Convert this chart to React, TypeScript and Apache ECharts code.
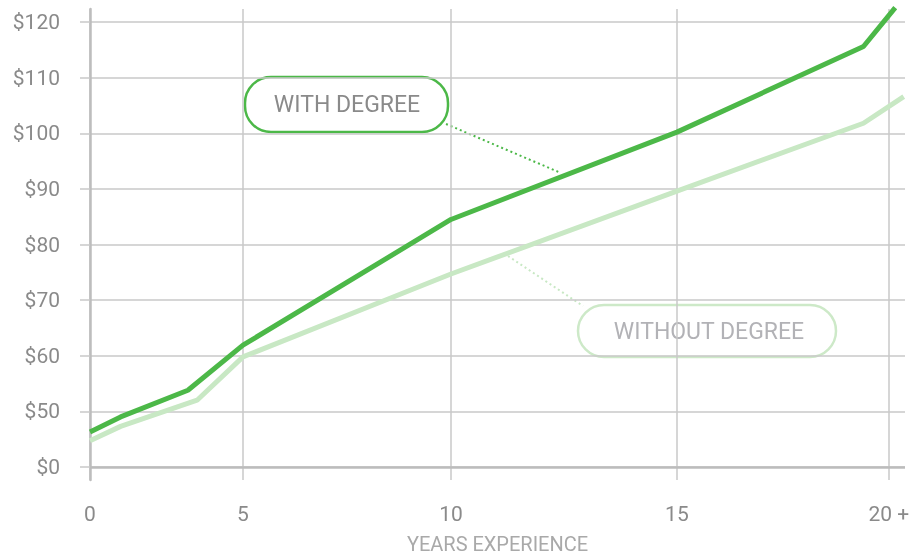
import React, { useEffect, useRef } from "react";
import * as echarts from "echarts";

// ---- data ----
const X_TICKS = [0, 5, 10, 15, 20];
const X_TICK_LABELS = ["0", "5", "10", "15", "20 +"];
const Y_TICKS = [0, 50, 60, 70, 80, 90, 100, 110, 120];
const Y_TICK_LABELS = ["$0", "$50", "$60", "$70", "$80", "$90", "$100", "$110", "$120"];

const WITH_YEARS = [0, 1, 3.2, 5, 10, 15, 19.4, 20.15];
const WITH_VALUES = [31.5, 45, 53.8, 61.9, 84.5, 100.2, 115.6, 122.6];
const WITHOUT_YEARS = [0, 1, 3.5, 5, 10, 15, 19.4, 20.35];
const WITHOUT_VALUES = [23.5, 36.5, 52.0, 59.8, 74.7, 89.6, 101.8, 106.6];

// ---- scale layout (relative widths of the 5-year bands; y axis compresses $0-$50) ----
const X_BANDS = [153, 208, 226, 212];
const X_END_YEAR = 20.38;
const Y_MIN_DISP = 37.66;
const Y_MAX_DISP = 122.34;

const xWarp = (yr: number) => {
  let acc = 0;
  for (let i = 0; i < X_BANDS.length; i++) {
    const lo = X_TICKS[i];
    const hi = X_TICKS[i + 1];
    const last = i === X_BANDS.length - 1;
    if (yr <= hi || last) return acc + ((yr - lo) / (hi - lo)) * X_BANDS[i];
    acc += X_BANDS[i];
  }
  return acc;
};
const yWarp = (d: number) => (d < 50 ? 40 + d / 5 : d);

const FONT = "Roboto";

export default function App() {
  const ref = useRef<HTMLDivElement>(null);
  useEffect(() => {
    if (!ref.current) return;
    const chart = echarts.init(ref.current, null, { renderer: "svg" });
    const xLabel = (v: number) => {
      const i = X_TICKS.findIndex((t) => Math.abs(xWarp(t) - v) < 0.01);
      return i >= 0 ? X_TICK_LABELS[i] : "";
    };
    const yLabel = (v: number) => {
      const i = Y_TICKS.findIndex((t) => Math.abs(yWarp(t) - v) < 0.01);
      return i >= 0 ? Y_TICK_LABELS[i] : "";
    };
    const grid = "#c9c9c9";
    chart.setOption({
      animation: false,
      grid: { left: 90, right: 7, top: 9, bottom: 77, containLabel: false, outerBoundsMode: "none" },
      xAxis: {
        type: "value",
        min: 0,
        max: xWarp(X_END_YEAR),
        axisLine: { show: false },
        axisTick: { show: false, customValues: X_TICKS.map(xWarp) },
        axisLabel: {
          customValues: X_TICKS.map(xWarp),
          formatter: xLabel,
          margin: 23,
          color: "#8a8a8a",
          fontFamily: FONT,
          fontSize: 21,
        },
        splitLine: { show: true, lineStyle: { color: grid, width: 1.5 } },
        name: "YEARS EXPERIENCE",
        nameLocation: "middle",
        nameGap: 54,
        nameTextStyle: { color: "#a9a9a9", fontFamily: FONT, fontSize: 20 },
      },
      yAxis: {
        type: "value",
        min: Y_MIN_DISP,
        max: Y_MAX_DISP,
        axisLine: { show: true, lineStyle: { color: "#bdbdbd", width: 2.5 } },
        axisTick: {
          show: true,
          length: 10,
          customValues: Y_TICKS.map(yWarp),
          lineStyle: { color: grid, width: 1.5 },
        },
        axisLabel: {
          customValues: Y_TICKS.map(yWarp),
          formatter: yLabel,
          margin: 30,
          color: "#8a8a8a",
          fontFamily: FONT,
          fontSize: 21,
        },
        splitLine: { show: true, lineStyle: { color: grid, width: 1.5 } },
      },
      series: [
        {
          name: "Without degree",
          type: "line",
          data: WITHOUT_YEARS.map((yr, i) => [xWarp(yr), yWarp(WITHOUT_VALUES[i])]),
          showSymbol: false,
          clip: false,
          lineStyle: { color: "#c8e8c4", width: 5 },
          itemStyle: { color: "#c8e8c4" },
          markLine: {
            silent: true,
            symbol: "none",
            label: { show: false },
            lineStyle: { color: "#bcbcbc", width: 2.5, type: "solid" },
            data: [{ yAxis: yWarp(0) }],
          },
        },
        {
          name: "With degree",
          type: "line",
          data: WITH_YEARS.map((yr, i) => [xWarp(yr), yWarp(WITH_VALUES[i])]),
          showSymbol: false,
          clip: false,
          lineStyle: { color: "#4cb848", width: 5 },
          itemStyle: { color: "#4cb848" },
        },
      ],
      graphic: [
        {
          type: "line",
          shape: { x1: 446, y1: 124, x2: 561, y2: 173 },
          style: { stroke: "#4cb848", lineWidth: 2, lineDash: [2, 3] },
        },
        {
          type: "rect",
          shape: { x: 245, y: 77, width: 203, height: 55, r: 26 },
          style: { fill: "none", stroke: "#4cb848", lineWidth: 2.5 },
        },
        {
          type: "text",
          x: 347,
          y: 104.5,
          style: {
            text: "WITH DEGREE",
            fill: "#8a8a8a",
            font: `23px ${FONT}`,
            align: "center",
            verticalAlign: "middle",
          },
        },
        {
          type: "line",
          shape: { x1: 508, y1: 256, x2: 583, y2: 306 },
          style: { stroke: "#c8e8c4", lineWidth: 2, lineDash: [2, 3] },
        },
        {
          type: "rect",
          shape: { x: 578, y: 305, width: 258, height: 52, r: 26 },
          style: { fill: "none", stroke: "#cde9c8", lineWidth: 2.5 },
        },
        {
          type: "text",
          x: 709,
          y: 331,
          style: {
            text: "WITHOUT DEGREE",
            fill: "#b2b2b6",
            font: `23px ${FONT}`,
            align: "center",
            verticalAlign: "middle",
          },
        },
      ],
    });
    return () => chart.dispose();
  }, []);
  return (
    <div
      ref={ref}
      style={{ position: "fixed", left: 0, top: 0, width: 912, height: 557 }}
    />
  );
}
